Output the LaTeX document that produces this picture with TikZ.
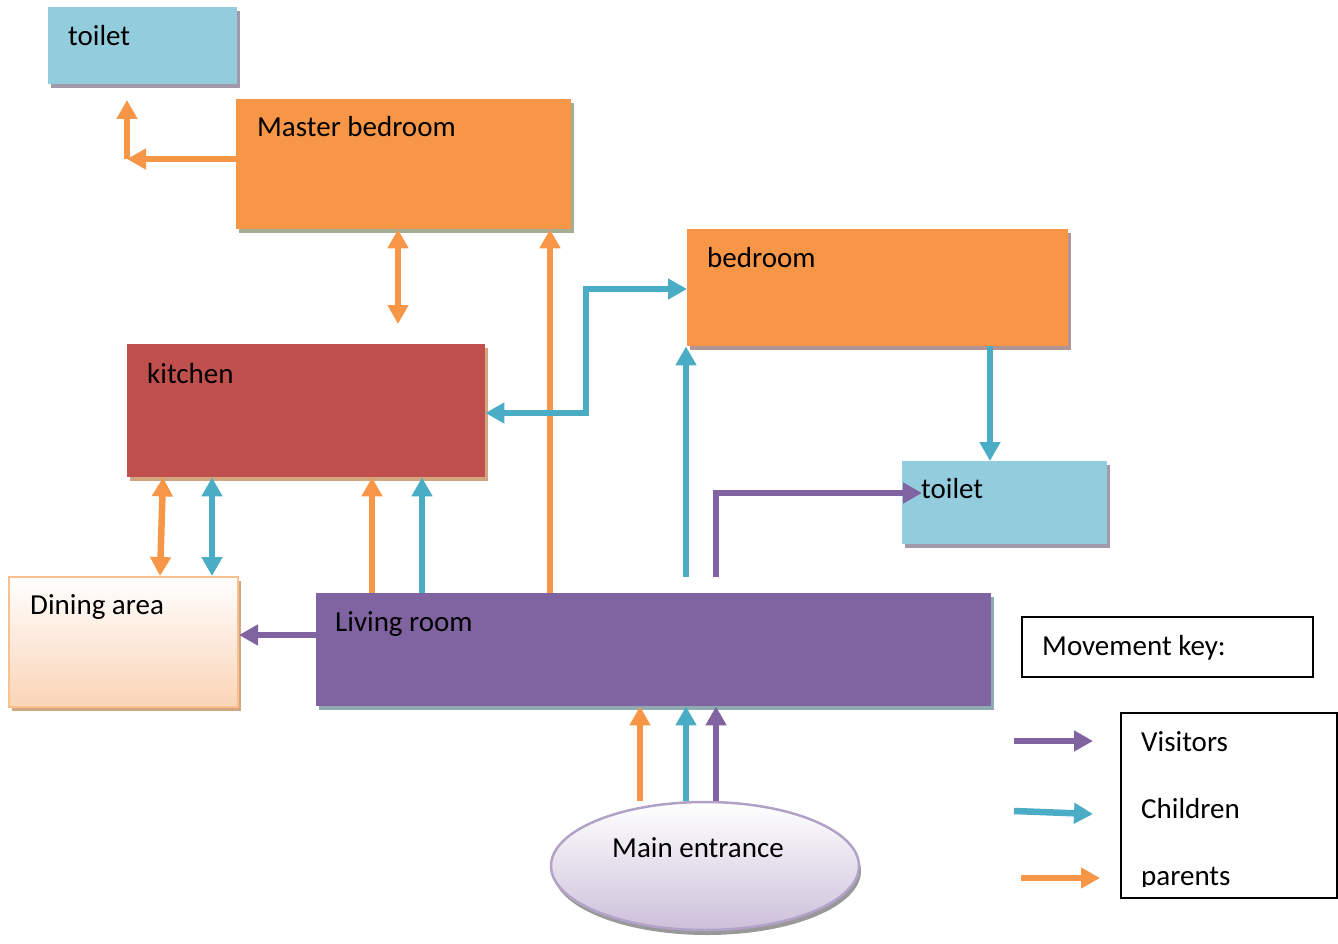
\documentclass[tikz,border=0pt]{standalone}
\usepackage{fontspec}
\setmainfont{Carlito}
\usetikzlibrary{arrows.meta,shapes.geometric,shadows}
\definecolor{aqua}{HTML}{93CDDD}
\definecolor{orng}{HTML}{F79646}
\definecolor{brick}{HTML}{C0504D}
\definecolor{purp}{HTML}{8064A2}
\definecolor{teal}{HTML}{4BACC6}
\definecolor{shgray}{HTML}{A09AAA}
\definecolor{shgreen}{HTML}{A5AE94}
\definecolor{shrose}{HTML}{B39393}
\definecolor{shtan}{HTML}{D3A57F}
\definecolor{shblue}{HTML}{8FAAB0}
\definecolor{peach}{HTML}{FAD4B6}
\definecolor{peachline}{HTML}{FAC090}
\definecolor{lilac}{HTML}{CCC0DA}
\definecolor{lilacline}{HTML}{B3A2C7}
\tikzset{
  room/.style={rectangle, inner sep=0pt, anchor=north west},
  shd/.style={drop shadow={fill=#1, opacity=1, shadow xshift=3pt, shadow yshift=-4pt}},
  lbl/.style={font=\fontsize{29}{34}\selectfont, inner sep=0pt, anchor=base west},
  par/.style={draw=orng, line width=6.5pt},
  kid/.style={draw=teal, line width=6.5pt},
  vis/.style={draw=purp, line width=6.5pt},
  keybox/.style={rectangle, draw=black, line width=1.6pt, inner sep=0pt, anchor=north west},
}
\begin{document}
\begin{tikzpicture}[x=1pt,y=-1pt,>={Triangle[width=20pt,length=19pt]}]
\useasboundingbox (0,0) rectangle (1338,944);
% rooms
\node[room, fill=aqua, shd=shgray, minimum width=189pt, minimum height=77pt] (t1) at (48,7) {};
\node[lbl] (t1l) at (68,46) {toilet};
\node[room, fill=orng, shd=shgreen, minimum width=335pt, minimum height=130pt] (mb) at (236,99) {};
\node[lbl] (mbl) at (257,137) {Master bedroom};
\node[room, fill=orng, shd=shrose, minimum width=381pt, minimum height=117pt] (bed) at (687,229) {};
\node[lbl] (bedl) at (707,267) {bedroom};
\node[room, fill=brick, shd=shtan, minimum width=358pt, minimum height=133pt] (kit) at (127,344) {};
\node[lbl] (kitl) at (147,383) {kitchen};
\node[room, fill=aqua, shd=shgray, minimum width=205pt, minimum height=83pt] (t2) at (902,461) {};
\node[room, draw=peachline, line width=2pt, top color=white, bottom color=peach, shd=shtan, minimum width=229pt, minimum height=130pt] (din) at (8,576) {};
\node[lbl] (dinl) at (30,614) {Dining area};
\node[room, fill=purp, shd=shblue, minimum width=675pt, minimum height=113pt] (lr) at (316,593) {};
\node[lbl] (lrl) at (335,631) {Living room};
\node[ellipse, draw=lilacline, line width=2.5pt, top color=white, bottom color=lilac, drop shadow={fill=gray!80, opacity=1, shadow xshift=2pt, shadow yshift=-5pt}, minimum width=308pt, minimum height=128pt, inner sep=0pt] (me) at (705,866) {};
\node[lbl, anchor=base] (mel) at (698,857) {Main entrance};
% key
\node[keybox, minimum width=291pt, minimum height=60pt] (kb) at (1021,616) {};
\node[lbl] (kbl) at (1042,655) {Movement key:};
\node[keybox, minimum width=216pt, minimum height=185pt] (lg) at (1120,712) {};
\node[lbl] (lgv) at (1141,751) {Visitors};
\node[lbl] (lgc) at (1141,818) {Children};
\begin{scope}
\clip (1125,850) rectangle (1330,886);
\node[lbl] (lgp) at (1141,885) {parents};
\end{scope}
% coordinates
\coordinate (c1) at (127,159);
\coordinate (c1u) at (127,100);
\coordinate (c3) at (398,324);
\coordinate (c4) at (550,0);
\coordinate (k1) at (586,413);
\coordinate (k2) at (586,289);
\coordinate (ch1) at (686,577);
\coordinate (v1) at (716,577);
\coordinate (v2) at (716,493);
\coordinate (v3) at (922,493);
\coordinate (c8) at (990,0);
\coordinate (d1) at (163,0);
\coordinate (d2) at (160,0);
\coordinate (d3) at (212,0);
\coordinate (c11) at (372,0);
\coordinate (c12) at (422,0);
\coordinate (c13) at (0,635);
\coordinate (e1) at (640,801);
\coordinate (e2) at (686,801);
\coordinate (e3) at (716,801);
\coordinate (kv1) at (1014,741);
\coordinate (kv2) at (1093,741);
\coordinate (kc1) at (1014,811);
\coordinate (kc2) at (1093,814);
\coordinate (kp1) at (1021,878);
\coordinate (kp2) at (1100,878);
% connectors
\draw[par,->] (mb.west |- c1) -- (c1);
\draw[par,->] (c1) -- (c1u);
\draw[par,<->] (mb.south -| c3) -- (c3);
\draw[par,->] (lr.north -| c4) -- (mb.south -| c4);
\draw[kid,<->] (kit.east |- k1) -- (k1) -- (k2) -- (bed.west |- k2);
\draw[kid,->] (ch1) -- (bed.south -| ch1);
\draw[vis,->] (v1) -- (v2) -- (v3);
\node[lbl] (t2l) at (921,498) {toilet};
\draw[kid,->] (bed.south -| c8) -- (t2.north -| c8);
\draw[par,<->] (kit.south -| d1) -- (din.north -| d2);
\draw[kid,<->] (kit.south -| d3) -- (din.north -| d3);
\draw[par,->] (lr.north -| c11) -- (kit.south -| c11);
\draw[kid,->] (lr.north -| c12) -- (kit.south -| c12);
\draw[vis,->] (lr.west |- c13) -- (din.east |- c13);
\draw[par,->] (e1) -- (lr.south -| e1);
\draw[kid,->] (e2) -- (lr.south -| e2);
\draw[vis,->] (e3) -- (lr.south -| e3);
\draw[vis,->] (kv1) -- (kv2);
\draw[kid,->] (kc1) -- (kc2);
\draw[par,->] (kp1) -- (kp2);
\end{tikzpicture}
\end{document}
